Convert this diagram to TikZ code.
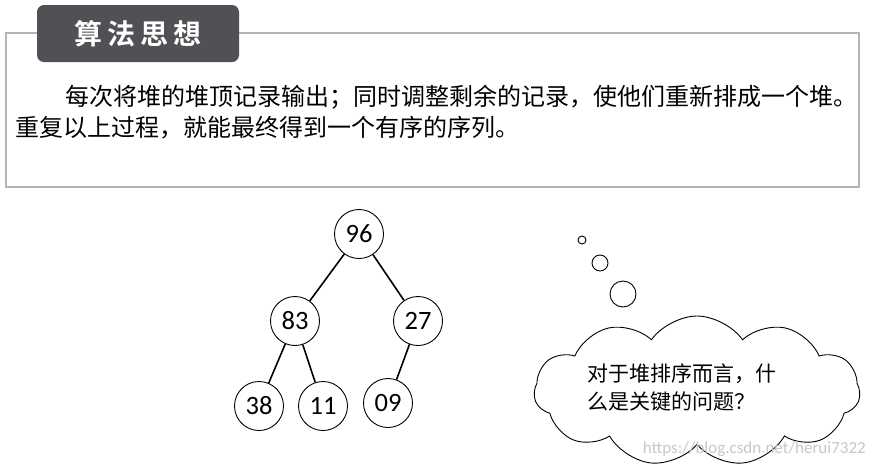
\documentclass[tikz,border=0pt]{standalone}
\usepackage{fontspec}
\setmainfont{Carlito}
\newfontfamily\cjk{Noto Sans CJK SC}
\newfontfamily\cjkb{Noto Sans CJK SC Bold}
\usetikzlibrary{shapes.symbols}
\definecolor{framegray}{HTML}{B4B4B4}
\definecolor{titlegray}{HTML}{505055}
\tikzset{
  treenode/.style={circle,draw=black,line width=0.9pt,minimum size=49pt,inner sep=0pt,font=\fontsize{26.5}{28}\selectfont},
  treeedge/.style={line width=1.6pt},
  bubble/.style={circle,draw=black,line width=0.9pt,inner sep=0pt},
  bodytext/.style={anchor=west,inner sep=0pt,font=\cjk\fontsize{24}{26}\selectfont},
}
\begin{document}
\begin{tikzpicture}[x=1pt,y=-1pt]
\useasboundingbox (0,0) rectangle (875,467);
% frame
\draw[framegray,line width=2pt] (6,33) rectangle (859,187);
% title box
\node[fill=titlegray,rounded corners=7pt,minimum width=202pt,minimum height=57pt,inner sep=0pt,text=white,font=\cjkb\fontsize{28}{30}\selectfont] (title) at (138,33.5) {算\hspace{5pt}法\hspace{5pt}思\hspace{5pt}想};
% body text
\node[bodytext] (l1) at (65,97) {每次将堆的堆顶记录输出；同时调整剩余的记录，使他们重新排成一个堆。};
\node[bodytext] (l2) at (15,128) {重复以上过程，就能最终得到一个有序的序列。};
% tree
\node[treenode] (n96) at (359,234) {96};
\node[treenode] (n83) at (295,321) {83};
\node[treenode] (n27) at (418,321) {27};
\node[treenode] (n38) at (259,406) {38};
\node[treenode] (n11) at (323,406) {11};
\node[treenode] (n09) at (388,403) {09};
\draw[treeedge] (n96) -- (n83);
\draw[treeedge] (n96) -- (n27);
\draw[treeedge] (n83) -- (n38);
\draw[treeedge] (n83) -- (n11);
\draw[treeedge] (n27) -- (n09);
% thought bubbles
\node[bubble,minimum size=8pt] (b1) at (582,240) {};
\node[bubble,minimum size=16pt] (b2) at (600,263) {};
\node[bubble,minimum size=26pt] (b3) at (623,294) {};
% cloud
\node[cloud,draw=black,line width=0.9pt,cloud puffs=11,cloud puff arc=110,aspect=2.15,minimum width=326pt,minimum height=150pt,inner sep=0pt] (cloud) at (697,391) {};
\node[anchor=west,inner sep=0pt,align=left,font=\cjk\fontsize{21}{28}\selectfont] (q) at (587,388) {对于堆排序而言，什\\么是关键的问题？};
% watermark
\node[anchor=east,inner sep=0pt,text=black!22,font=\fontsize{17}{18}\selectfont] (wm) at (866,449) {https://blog.csdn.net/herui7322};
\end{tikzpicture}
\end{document}
